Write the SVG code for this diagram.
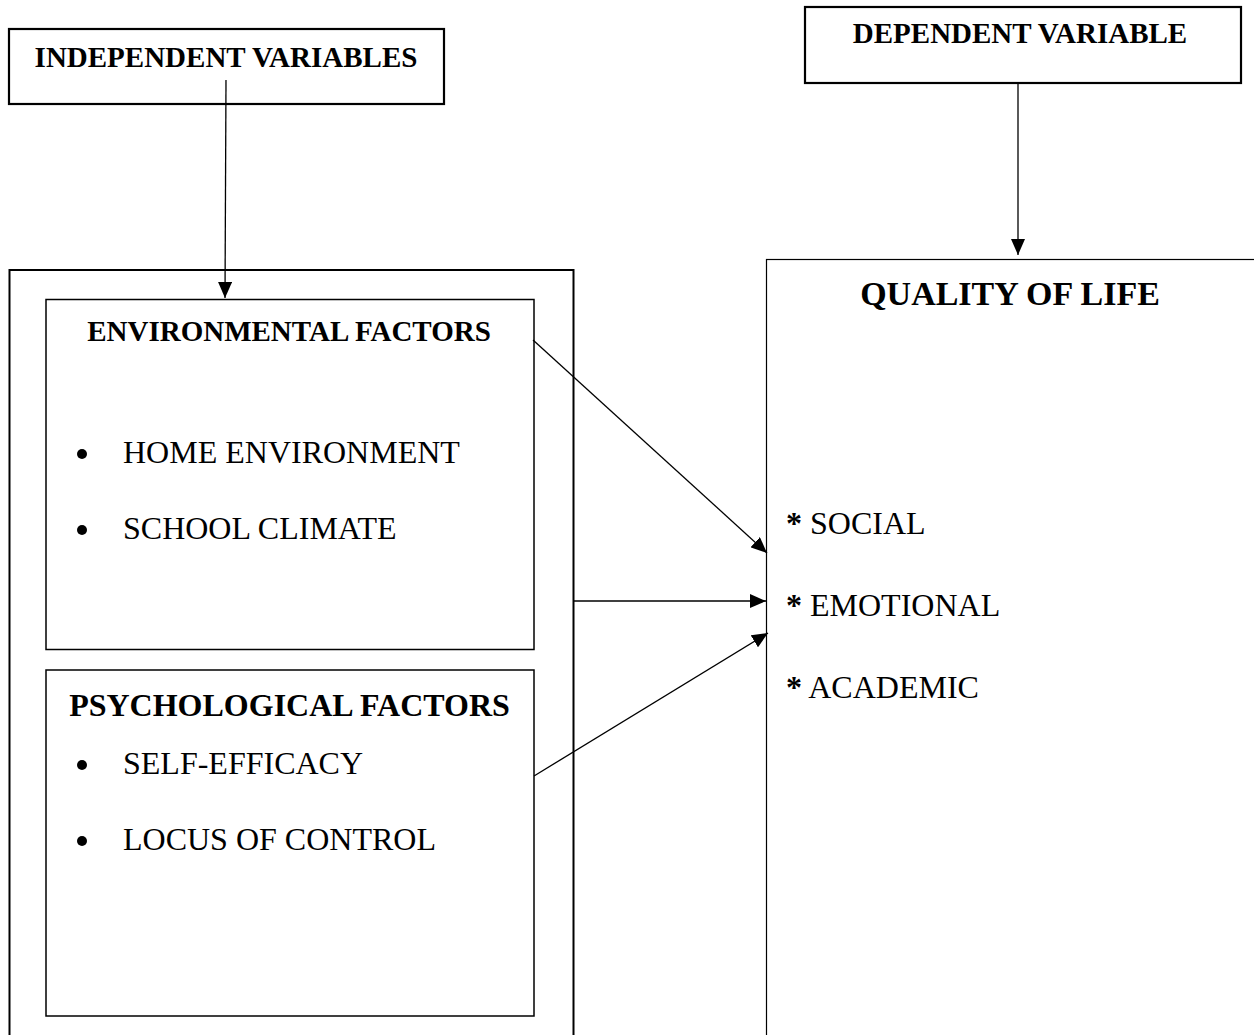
<svg xmlns="http://www.w3.org/2000/svg" width="1254" height="1035" viewBox="0 0 1254 1035">
<style>
text{font-family:"Liberation Serif","Times New Roman",serif;fill:#000}
.h{font-weight:bold}
.item{font-size:32px}
.box{fill:none;stroke:#000}
.conn{stroke:#000;stroke-width:1.3;fill:none}
</style>
<defs>
<marker id="ah" markerUnits="userSpaceOnUse" markerWidth="16" markerHeight="14" refX="16" refY="7" orient="auto">
<path d="M0,0 L16,7 L0,14 z" fill="#000"/>
</marker>
</defs>
<rect width="1254" height="1035" fill="#fff"/>
<g id="independent">
<rect class="box" x="9" y="29" width="435" height="75" stroke-width="2.2"/>
<text class="h" x="226" y="67" font-size="29" text-anchor="middle">INDEPENDENT VARIABLES</text>
</g>
<g id="dependent">
<rect class="box" x="805" y="7" width="436" height="76" stroke-width="2.2"/>
<text class="h" x="1020" y="43" font-size="29" text-anchor="middle">DEPENDENT VARIABLE</text>
</g>
<g id="outer-independent">
<rect class="box" x="9.5" y="270" width="564" height="780" stroke-width="2"/>
</g>
<g id="environmental">
<rect class="box" x="46" y="299.5" width="488" height="350" stroke-width="1.5" stroke="#333"/>
<text class="h" x="289" y="341" font-size="29" text-anchor="middle">ENVIRONMENTAL FACTORS</text>
<circle cx="82" cy="454" r="5"/>
<text class="item" x="123" y="463">HOME ENVIRONMENT</text>
<circle cx="82" cy="530" r="5"/>
<text class="item" x="123" y="539">SCHOOL CLIMATE</text>
</g>
<g id="psychological">
<rect class="box" x="46" y="670" width="488" height="346" stroke-width="1.5" stroke="#333"/>
<text class="h" x="289.5" y="716" font-size="32" text-anchor="middle">PSYCHOLOGICAL FACTORS</text>
<circle cx="82" cy="765" r="5"/>
<text class="item" x="123" y="774">SELF-EFFICACY</text>
<circle cx="82" cy="841" r="5"/>
<text class="item" x="123" y="850">LOCUS OF CONTROL</text>
</g>
<g id="quality">
<rect class="box" x="766.5" y="259.5" width="500" height="800" stroke-width="1.2"/>
<text class="h" x="1010" y="305" font-size="34" text-anchor="middle">QUALITY OF LIFE</text>
<text class="item" x="786" y="534"><tspan class="h">*</tspan> SOCIAL</text>
<text class="item" x="786" y="616"><tspan class="h">*</tspan> EMOTIONAL</text>
<text class="item" x="786" y="698"><tspan class="h">*</tspan> ACADEMIC</text>
</g>
<g id="connectors">
<line class="conn" x1="226" y1="80" x2="225" y2="298" marker-end="url(#ah)"/>
<line class="conn" x1="1018" y1="83" x2="1018" y2="255" marker-end="url(#ah)"/>
<line class="conn" x1="533" y1="340" x2="767" y2="553" marker-end="url(#ah)"/>
<line class="conn" x1="573" y1="601" x2="766" y2="601" marker-end="url(#ah)"/>
<line class="conn" x1="534" y1="776" x2="768" y2="633" marker-end="url(#ah)"/>
</g>
</svg>
